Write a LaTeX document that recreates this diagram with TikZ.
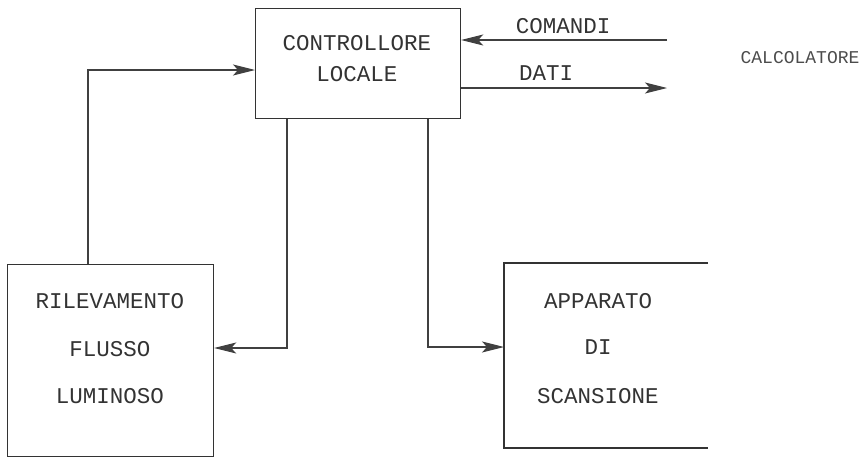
\documentclass[tikz,border=0pt]{standalone}
\usepackage{fontspec}
\setmonofont{Liberation Mono}
\usetikzlibrary{arrows.meta}
\begin{document}
\begin{tikzpicture}[x=1pt,y=-1pt,
  box/.style={draw=black!80,line width=1.2pt},
  lbl/.style={font=\ttfamily\fontsize{22.5}{26}\selectfont,text=black!80,inner sep=0pt},
  small/.style={font=\ttfamily\fontsize{18}{21}\selectfont,text=black!70,inner sep=0pt},
  conn/.style={draw=black!75,line width=1.1pt,-{Stealth[length=22pt,width=11pt,inset=5pt]}}]
\useasboundingbox (0,0) rectangle (861,458);
% boxes
\node[box,minimum width=205pt,minimum height=110pt,anchor=north west] (ctrl) at (255,8) {};
\node[box,minimum width=206pt,minimum height=192pt,anchor=north west] (ril) at (7,264) {};
\coordinate (sTL) at (504,263);
\coordinate (sTR) at (708,263);
\coordinate (sBL) at (504,448);
\coordinate (sBR) at (708,448);
\draw[box] (sTR) -- (sTL) -- (sBL) -- (sBR);
\coordinate (scanL) at (504,347);
% texts
\node[lbl] (t1) at (357,43) {CONTROLLORE};
\node[lbl] (t2) at (357,74) {LOCALE};
\node[lbl] (t3) at (110,301) {RILEVAMENTO};
\node[lbl] (t4) at (110,349) {FLUSSO};
\node[lbl] (t5) at (110,396) {LUMINOSO};
\node[lbl] (t6) at (598,301) {APPARATO};
\node[lbl] (t7) at (598,347) {DI};
\node[lbl] (t8) at (598,396) {SCANSIONE};
\node[small] (calc) at (800,58) {CALCOLATORE};
\node[lbl] (com) at (563,26) {COMANDI};
\node[lbl] (dat) at (546,73) {DATI};
% connectors
\coordinate (comR) at (667,40);
\coordinate (datR) at (667,88);
\draw[conn] (comR) -- (ctrl.east |- comR);
\draw[conn] (ctrl.east |- datR) -- (datR);
\draw[conn] (ril.north -| 88,0) |- (ctrl.west |- 0,70);
\draw[conn] (ctrl.south -| 287,0) |- (ril.east |- 0,348);
\draw[conn] (ctrl.south -| 428,0) |- (scanL);
\end{tikzpicture}
\end{document}
